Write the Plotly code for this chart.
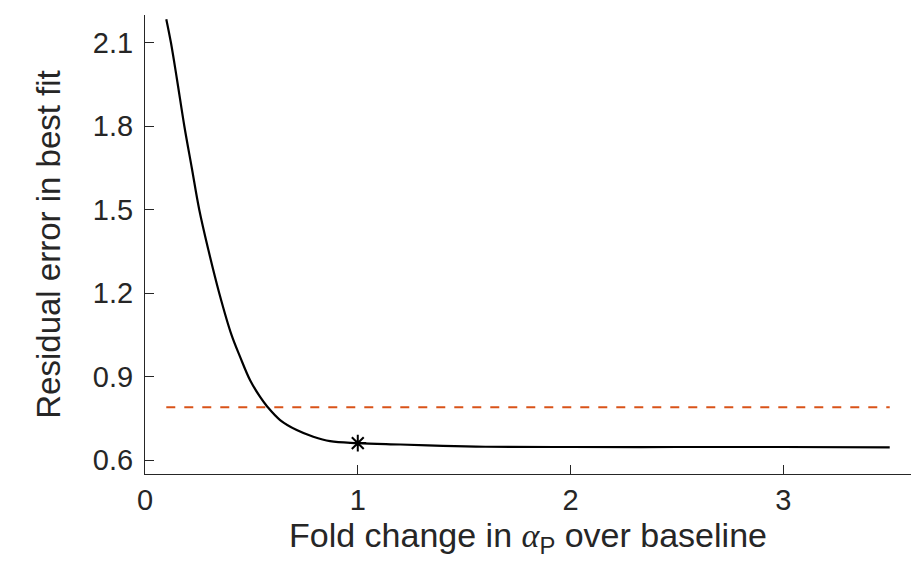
import plotly.graph_objects as go

fold_change = [0.1, 0.122, 0.15, 0.185, 0.22, 0.255, 0.298, 0.349, 0.407, 0.447, 0.494,
               0.541, 0.575, 0.635, 0.713, 0.791, 0.87, 1.0, 1.2, 1.4, 1.6, 2.0, 2.5, 3.0, 3.5]
residual = [2.185, 2.1, 1.97, 1.8, 1.65, 1.5, 1.355, 1.2, 1.049, 0.971, 0.887,
            0.827, 0.792, 0.744, 0.708, 0.684, 0.668, 0.661, 0.656, 0.651, 0.648,
            0.647, 0.647, 0.647, 0.646]
best_x = [1.0]
best_y = [0.661]
threshold_x = [0.1, 3.5]
threshold_y = [0.79, 0.79]

x_ticks = [0, 1, 2, 3]
y_ticks = [0.6, 0.9, 1.2, 1.5, 1.8, 2.1]

fig = go.Figure()
fig.add_trace(go.Scatter(x=threshold_x, y=threshold_y, mode="lines",
                         line=dict(color="#D95319", width=2, dash="dash"), showlegend=False))
fig.add_trace(go.Scatter(x=fold_change, y=residual, mode="lines",
                         line=dict(color="black", width=2.2, shape="spline", smoothing=1.0),
                         showlegend=False))
fig.add_trace(go.Scatter(x=best_x, y=best_y, mode="markers",
                         marker=dict(symbol="asterisk-open", size=14, color="black",
                                     line=dict(color="black", width=2)),
                         showlegend=False))

axis_color = "#262626"
fig.update_layout(
    width=913, height=562,
    margin=dict(l=145, r=2, t=15, b=88),
    plot_bgcolor="white", paper_bgcolor="white",
    font=dict(family="Liberation Sans, Arial, sans-serif", size=29, color=axis_color),
    xaxis=dict(range=[0, 3.6], tickvals=x_ticks, ticktext=[str(v) for v in x_ticks],
               showgrid=False, zeroline=False, showline=True, linecolor=axis_color, linewidth=1.2,
               ticks="inside", ticklen=9, tickcolor=axis_color, tickwidth=1.2,
               title=dict(text="Fold change in <span style=\"font-family:'Liberation Serif';\"><i>α</i></span><sub>P</sub> over baseline",
                          font=dict(size=34), standoff=4)),
    yaxis=dict(range=[0.55, 2.2], tickvals=y_ticks, ticktext=[f"{v:.1f}" for v in y_ticks],
               showgrid=False, zeroline=False, showline=True, linecolor=axis_color, linewidth=1.2,
               ticks="inside", ticklen=9, tickcolor=axis_color, tickwidth=1.2,
               ticklabelstandoff=5,
               title=dict(text="Residual error in best fit", font=dict(size=33), standoff=22)),
)

fig.write_html("out.html")
